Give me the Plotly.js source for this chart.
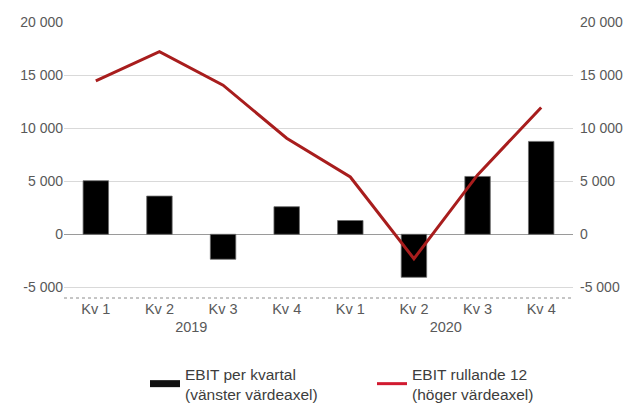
<!DOCTYPE html>
<html>
<head>
<meta charset="utf-8">
<script src="https://cdn.plot.ly/plotly-3.0.1.min.js"></script>
<style>html,body{margin:0;padding:0;background:#fff;}#chart{width:628px;height:403px;}</style>
</head>
<body>
<div id="chart"></div>
<script>
const years = ["2019","2019","2019","2019","2020","2020","2020","2020"];
const quarters = ["Kv 1","Kv 2","Kv 3","Kv 4","Kv 1","Kv 2","Kv 3","Kv 4"];
const ebitQuarter = [5050, 3600, -2350, 2600, 1300, -4050, 5450, 8750];
const ebitRolling = [14450, 17200, 14050, 9050, 5400, -2300, 5600, 11950];
const tickVals = [-5000, 0, 5000, 10000, 15000, 20000];
const tickLabels = ["-5 000", "0", "5 000", "10 000", "15 000", "20 000"];
const legendNames = ["EBIT per kvartal<br>(vänster värdeaxel)", "EBIT rullande 12<br>(höger värdeaxel)"];

const fam = "Liberation Sans, Arial, Helvetica, sans-serif";
const tickColor = "#595959";

const traces = [
  {
    type: "bar",
    x: [years, quarters],
    y: ebitQuarter,
    name: legendNames[0],
    showlegend: false,
    marker: {color: "#000000", line: {color: "#6b6b6b", width: 0.8}},
    width: 0.4,
    yaxis: "y",
    hoverinfo: "skip"
  },
  {
    type: "scatter",
    mode: "lines",
    x: [years, quarters],
    y: ebitRolling,
    name: legendNames[1],
    showlegend: false,
    line: {color: "#a81d1d", width: 3},
    yaxis: "y2",
    hoverinfo: "skip"
  },
  {
    type: "scatter",
    mode: "lines",
    x: [[years[0]], [quarters[0]]],
    y: [null],
    name: legendNames[0],
    line: {color: "#111111", width: 7},
    legend: "legend",
    hoverinfo: "skip"
  },
  {
    type: "scatter",
    mode: "lines",
    x: [[years[0]], [quarters[0]]],
    y: [null],
    name: legendNames[1],
    line: {color: "#d11a30", width: 3},
    yaxis: "y2",
    legend: "legend2",
    hoverinfo: "skip"
  }
];

const legendFont = {family: fam, size: 15.5, color: "#3d3d3d"};
const legendTop = (403 - 357) / 403;

const layout = {
  width: 628,
  height: 403,
  margin: {l: 64, r: 55, t: 22, b: 105, autoexpand: false},
  paper_bgcolor: "#ffffff",
  plot_bgcolor: "#ffffff",
  font: {family: fam, size: 14, color: tickColor},
  showlegend: true,
  xaxis: {
    type: "multicategory",
    showdividers: false,
    showgrid: false,
    showline: false,
    ticks: "",
    tickfont: {family: fam, size: 14.5, color: tickColor},
    fixedrange: true
  },
  yaxis: {
    range: [-6000, 20000],
    tickvals: tickVals,
    ticktext: tickLabels,
    showgrid: true,
    gridcolor: "#d9d9d9",
    gridwidth: 1,
    zeroline: true,
    zerolinecolor: "#9a9a9a",
    zerolinewidth: 1.2,
    ticks: "",
    tickfont: {family: fam, size: 14, color: tickColor},
    fixedrange: true
  },
  yaxis2: {
    range: [-6000, 20000],
    tickvals: tickVals,
    ticktext: tickLabels,
    overlaying: "y",
    side: "right",
    showgrid: false,
    zeroline: false,
    ticks: "",
    ticklabelstandoff: 6,
    tickfont: {family: fam, size: 14, color: tickColor},
    fixedrange: true
  },
  legend: {
    xref: "container", yref: "container",
    x: 145 / 628, xanchor: "left",
    y: legendTop, yanchor: "top",
    font: legendFont,
    itemwidth: 30,
    bgcolor: "rgba(0,0,0,0)"
  },
  legend2: {
    xref: "container", yref: "container",
    x: 372 / 628, xanchor: "left",
    y: legendTop, yanchor: "top",
    font: legendFont,
    itemwidth: 30,
    bgcolor: "rgba(0,0,0,0)"
  },
  shapes: [
    {
      type: "line",
      xref: "paper", yref: "paper",
      x0: 0, x1: 1, y0: 0, y1: 0,
      line: {color: "#8c8c8c", width: 1, dash: "dot"}
    }
  ]
};

Plotly.newPlot("chart", traces, layout, {displayModeBar: false, staticPlot: true});
</script>
</body>
</html>
